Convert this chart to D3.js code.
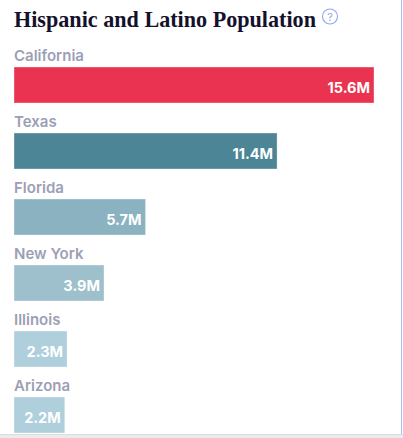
<!DOCTYPE html>
<html><head><meta charset="utf-8">
<script src="https://cdn.jsdelivr.net/npm/d3@7/dist/d3.min.js"></script>
<style>
html,body{margin:0;padding:0;background:#fff;overflow:hidden}
svg{display:block}
</style></head>
<body>
<script>
const title = "Hispanic and Latino Population";
const states = ["California","Texas","Florida","New York","Illinois","Arizona"];
const values = [15.6, 11.4, 5.7, 3.9, 2.3, 2.2];
const valueLabels = ["15.6M","11.4M","5.7M","3.9M","2.3M","2.2M"];
const colors = ["#ea3350","#4b8596","#8ab2c0","#9dc0cc","#aecfdb","#aecfdb"];

const W = 403, H = 438;
const svg = d3.select("body").append("svg").attr("width", W).attr("height", H);

// frame
svg.append("line").attr("x1", 401.5).attr("x2", 401.5).attr("y1", 0).attr("y2", 435)
  .attr("stroke", "#a9bff5").attr("stroke-width", 1);
svg.append("rect").attr("x", 0).attr("y", 435).attr("width", W).attr("height", 3).attr("fill", "#ebebeb");
svg.append("line").attr("x1", 0).attr("x2", W).attr("y1", 434.5).attr("y2", 434.5).attr("stroke", "#dcdcdc");

// title
svg.append("text").attr("x", 14).attr("y", 27)
  .attr("font-family", "'Liberation Serif', 'DejaVu Serif', serif")
  .attr("font-weight", 700).attr("font-size", 22.5).attr("fill", "#14112b")
  .attr("textLength", 302).attr("lengthAdjust", "spacingAndGlyphs")
  .text(title);

// help icon
const ic = svg.append("g").attr("transform", "translate(330,16.5)");
ic.append("circle").attr("r", 7.5).attr("fill", "none").attr("stroke", "#8fa6f2").attr("stroke-width", 1.1);
ic.append("text").attr("y", 4).attr("text-anchor", "middle")
  .attr("font-family", "Inter, 'Noto Sans', sans-serif").attr("font-size", 11)
  .attr("fill", "#8fa6f2").text("?");

const x = d3.scaleLinear().domain([0, 15.6]).range([14, 374]);
// step 66, bandwidth 36
const y = d3.scaleBand().domain(states).range([67, 67 + 66 * (states.length - 1) + 36])
  .paddingInner(30 / 66).paddingOuter(0);

const rows = svg.append("g").selectAll("g.row").data(states).join("g").attr("class", "row");

rows.append("text")
  .attr("x", 14).attr("y", d => y(d) - 6)
  .attr("font-family", "Inter, 'Noto Sans', sans-serif").attr("font-weight", 600)
  .attr("font-size", 15).attr("fill", "#9c9fb5")
  .text(d => d);

rows.append("rect")
  .attr("x", x(0)).attr("y", d => y(d))
  .attr("width", (d, i) => x(values[i]) - x(0))
  .attr("height", y.bandwidth())
  .attr("fill", (d, i) => colors[i])
  .attr("stroke", "rgba(255,255,255,0.35)").attr("stroke-width", 1);

rows.append("text")
  .attr("x", (d, i) => x(values[i]) - 4)
  .attr("y", d => y(d) + y.bandwidth() / 2 + 8)
  .attr("text-anchor", "end")
  .attr("font-family", "Inter, 'Noto Sans', sans-serif").attr("font-weight", 700)
  .attr("font-size", 14.5).attr("fill", "#ffffff")
  .text((d, i) => valueLabels[i]);
</script>
</body></html>
